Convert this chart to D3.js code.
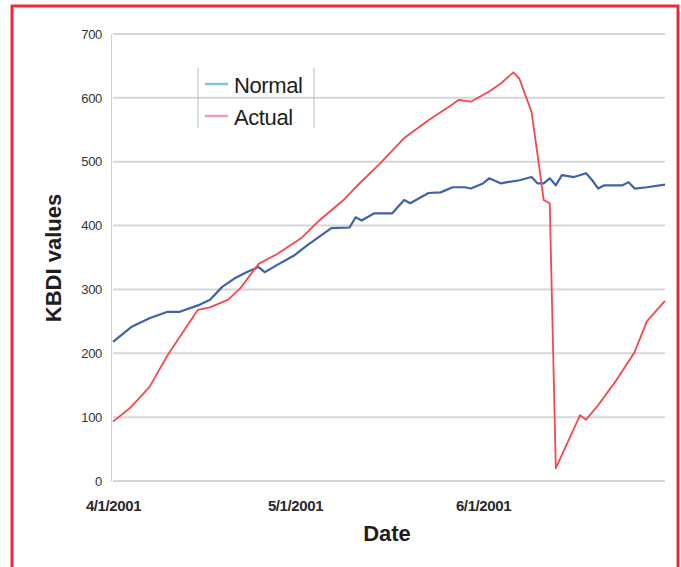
<!DOCTYPE html>
<html>
<head>
<meta charset="utf-8">
<script src="https://cdn.jsdelivr.net/npm/d3@7"></script>
<style>
  html, body { margin: 0; padding: 0; background: #fff; }
  svg { display: block; font-family: "Liberation Sans", Arial, sans-serif; }
</style>
</head>
<body>
<svg id="chart" width="681" height="567"></svg>
<script>
// ---- data ----
const yTicks = [0, 100, 200, 300, 400, 500, 600, 700];
const xTickLabels = ["4/1/2001", "5/1/2001", "6/1/2001"];
const seriesNames = ["Normal", "Actual"];

const normalDates = ["2001-04-01","2001-04-04","2001-04-07","2001-04-10","2001-04-12","2001-04-15","2001-04-17","2001-04-19","2001-04-21","2001-04-23","2001-04-25","2001-04-26","2001-04-28","2001-05-01","2001-05-03","2001-05-07","2001-05-10","2001-05-11","2001-05-12","2001-05-14","2001-05-17","2001-05-19","2001-05-20","2001-05-23","2001-05-25","2001-05-27","2001-05-29","2001-05-30","2001-06-01","2001-06-02","2001-06-04","2001-06-05","2001-06-07","2001-06-09","2001-06-10","2001-06-11","2001-06-12","2001-06-13","2001-06-14","2001-06-16","2001-06-18","2001-06-19","2001-06-20","2001-06-21","2001-06-24","2001-06-25","2001-06-26","2001-06-28","2001-07-01"];
const normalValues = [218,241,255,265,265,275,284,304,317,327,335,327,338,354,369,396,397,413,408,419,419,440,435,451,452,460,460,458,466,474,466,468,471,476,466,466,474,463,479,476,482,471,458,463,463,468,458,460,464];

const actualDates = ["2001-04-01","2001-04-04","2001-04-07","2001-04-10","2001-04-13","2001-04-15","2001-04-17","2001-04-20","2001-04-22","2001-04-25","2001-04-28","2001-05-02","2001-05-05","2001-05-09","2001-05-11","2001-05-15","2001-05-19","2001-05-23","2001-05-27","2001-05-28","2001-05-30","2001-06-02","2001-06-04","2001-06-06","2001-06-07","2001-06-09","2001-06-10","2001-06-11","2001-06-12","2001-06-13","2001-06-17","2001-06-18","2001-06-20","2001-06-23","2001-06-26","2001-06-28","2001-07-01"];
const actualValues = [93,116,147,197,240,268,272,284,302,340,355,380,408,440,460,497,537,565,590,597,594,610,623,640,630,578,510,440,435,20,103,96,119,158,202,250,282];

// ---- drawing ----
(function () {
const parse = d3.timeParse("%Y-%m-%d");
const parseTick = d3.timeParse("%m/%d/%Y");
const normal = normalDates.map((d, i) => ({ date: parse(d), value: normalValues[i] }));
const actual = actualDates.map((d, i) => ({ date: parse(d), value: actualValues[i] }));

const svg = d3.select("#chart");
const pl = 113, pr = 665, pt = 34, pb = 481;

const x = d3.scaleTime()
  .domain([parse("2001-04-01"), parse("2001-07-01")])
  .range([pl, pr]);
const y = d3.scaleLinear().domain([0, 700]).range([pb, pt]);

// red frame
svg.append("rect")
  .attr("x", 12).attr("y", 6).attr("width", 666).attr("height", 575)
  .attr("fill", "none").attr("stroke", "#ee2a3f").attr("stroke-width", 3);

// gridlines
const grid = svg.append("g");
grid.selectAll("line").data(yTicks).join("line")
  .attr("x1", pl).attr("x2", pr)
  .attr("y1", d => y(d)).attr("y2", d => y(d))
  .attr("stroke", "#d3d7d7").attr("stroke-width", 2);

// y axis
const yAxis = d3.axisLeft(y).tickValues(yTicks).tickSize(0).tickPadding(9);
const gy = svg.append("g").attr("transform", `translate(${pl - 2},0)`).call(yAxis);
gy.select(".domain").attr("stroke", "#c9d3d6").attr("stroke-width", 1);
gy.selectAll("text").attr("font-size", 13).attr("fill", "#333")
  .attr("font-family", "Liberation Sans, Arial, sans-serif").attr("letter-spacing", "-0.3");

// x axis
const xAxis = d3.axisBottom(x)
  .tickValues(xTickLabels.map(parseTick))
  .tickFormat((d, i) => xTickLabels[i])
  .tickSize(0).tickPadding(19);
const gx = svg.append("g").attr("transform", `translate(0,${pb})`).call(xAxis);
gx.select(".domain").remove();
gx.selectAll("text").attr("font-size", 15).attr("font-weight", "bold").attr("fill", "#2a2a2a")
  .attr("font-family", "Liberation Sans, Arial, sans-serif").attr("letter-spacing", "-0.4");

// axis titles
svg.append("text").attr("x", 387).attr("y", 541).attr("text-anchor", "middle")
  .attr("font-size", 22).attr("font-weight", "bold").attr("fill", "#1e1e1e").text("Date");
svg.append("text").attr("transform", "translate(61,258) rotate(-90)").attr("text-anchor", "middle")
  .attr("font-size", 22).attr("font-weight", "bold").attr("fill", "#1e1e1e").text("KBDI values");

// lines
const line = d3.line().x(d => x(d.date)).y(d => y(d.value));
svg.append("path").datum(normal).attr("d", line)
  .attr("fill", "none").attr("stroke", "#3e62ab").attr("stroke-width", 2.2).attr("stroke-linejoin", "round");
svg.append("path").datum(actual).attr("d", line)
  .attr("fill", "none").attr("stroke", "#f5474d").attr("stroke-width", 1.8).attr("stroke-linejoin", "round");

// legend
const lg = svg.append("g");
lg.append("line").attr("x1", 198).attr("x2", 198).attr("y1", 68).attr("y2", 128).attr("stroke", "#b8bcbc").attr("stroke-width", 1);
lg.append("line").attr("x1", 314).attr("x2", 314).attr("y1", 68).attr("y2", 128).attr("stroke", "#b8bcbc").attr("stroke-width", 1);
const legendColors = ["#7cc4ea", "#f49ab2"];
seriesNames.forEach((name, i) => {
  const cy = 84 + i * 32;
  lg.append("line").attr("x1", 205).attr("x2", 228).attr("y1", cy).attr("y2", cy)
    .attr("stroke", legendColors[i]).attr("stroke-width", 2.5);
  lg.append("text").attr("x", 234).attr("y", cy + 9).attr("font-size", 22)
    .attr("fill", "#1e1e1e").attr("letter-spacing", "-0.4").text(name);
});
})();
</script>
</body>
</html>
